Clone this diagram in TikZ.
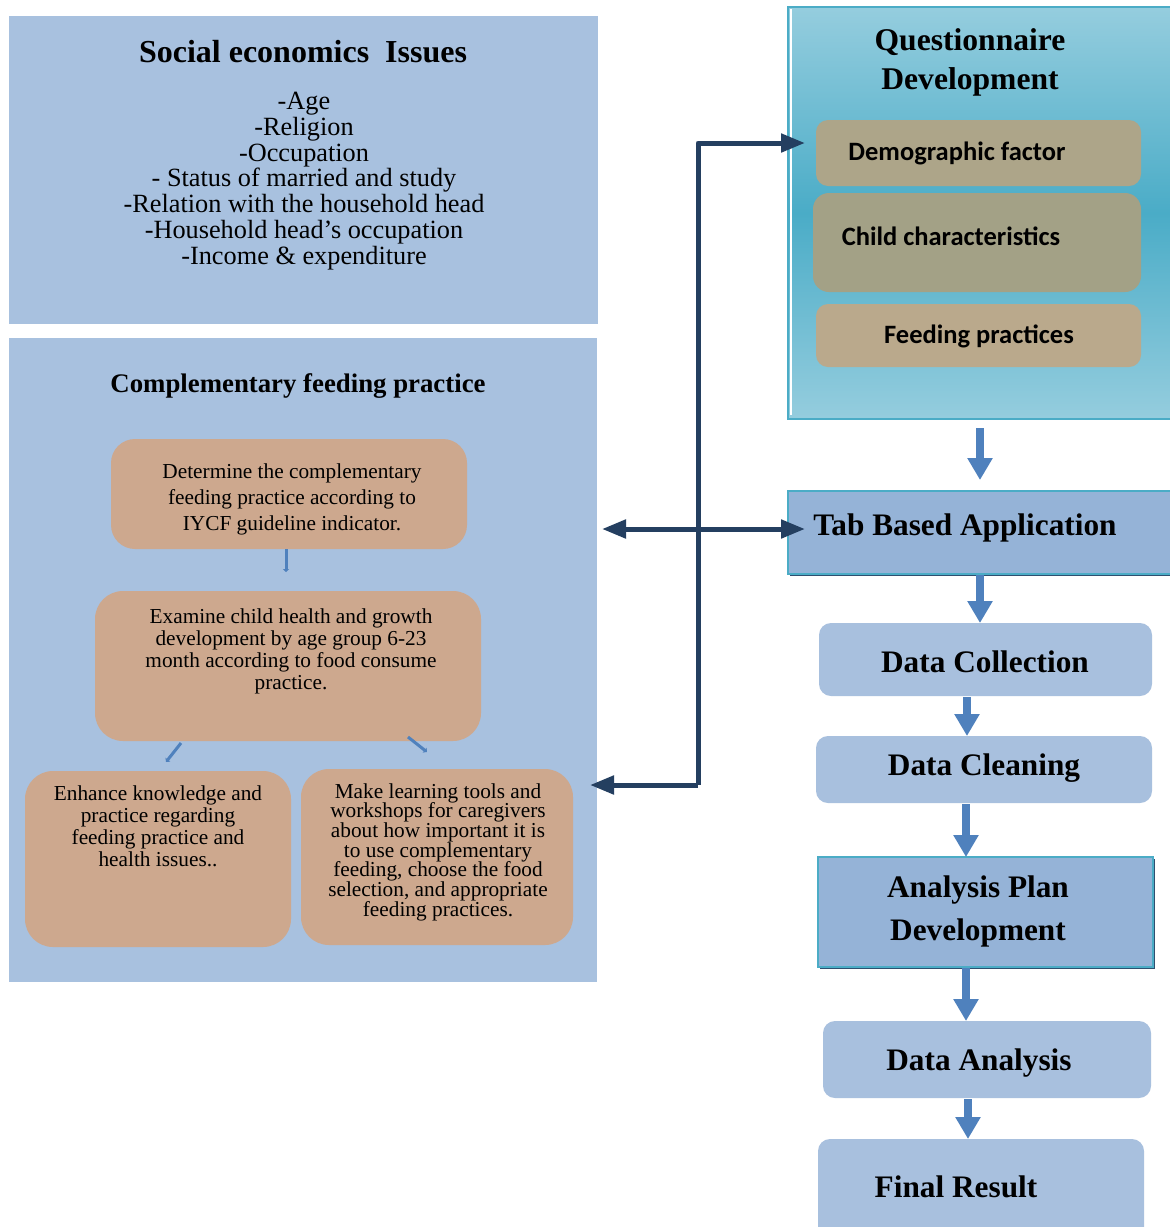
\documentclass[tikz,border=0pt]{standalone}
\usepackage{fontspec}
\setmainfont{Liberation Serif}
\newfontfamily\calfont{Carlito}
\usetikzlibrary{arrows.meta,calc}
\definecolor{panelblue}{HTML}{A8C1DF}
\definecolor{tanfill}{HTML}{CDA88E}
\definecolor{qlight}{HTML}{95CDDE}
\definecolor{qdark}{HTML}{4AACC7}
\definecolor{qborder}{HTML}{4BACC6}
\definecolor{demofill}{HTML}{ADA589}
\definecolor{childfill}{HTML}{A3A186}
\definecolor{feedfill}{HTML}{BAA98C}
\definecolor{tabfill}{HTML}{95B3D7}
\definecolor{dboxfill}{HTML}{A8C0DE}
\definecolor{arrowblue}{HTML}{4F81BD}
\definecolor{darknavy}{HTML}{243F60}
\definecolor{shadowc}{HTML}{2F4F6F}
\begin{document}
\begin{tikzpicture}[x=1pt,y=-1pt,
  every node/.style={inner sep=0pt, outer sep=0pt},
  panel/.style={fill=panelblue, anchor=north west},
  tanbox/.style={fill=tanfill, rounded corners=24pt, anchor=north west},
  qinner/.style={rounded corners=12pt, anchor=north west},
  dbox/.style={fill=dboxfill, rounded corners=12pt, anchor=north west},
  squarebox/.style={fill=tabfill, draw=qborder, line width=2pt, anchor=north west},
  bodytext/.style={align=center, font=\fontsize{21.3}{22}\selectfont},
  headtext/.style={align=center, font=\bfseries\fontsize{31.3}{43}\selectfont},
  caltext/.style={font=\calfont\bfseries\fontsize{26.5}{28}\selectfont},
  barrow/.style={draw=arrowblue, line width=8pt, -{Triangle[width=24pt,length=22pt]}},
  tarrow/.style={draw=arrowblue, line width=3pt, -{Triangle[width=6pt,length=3pt]}},
  dkline/.style={draw=darknavy, line width=5pt},
  dktip/.style={-{Triangle[width=18pt,length=24pt]}},
]
\useasboundingbox (0,0) rectangle (1170,1227);
\fill[white] (0,0) rectangle (1170,1227);

% ---------- Social economics ----------
\node[panel, minimum width=589pt, minimum height=308pt] (social) at (9,16) {};
\node[font=\bfseries\fontsize{32}{34}\selectfont] (socialtitle) at (303,52) {Social economics\ \ Issues};
\node[align=center, font=\fontsize{26.3}{25.8}\selectfont] (sociallist) at (304,181)
  {-Age\\-Religion\\-Occupation\\- Status of married and study\\-Relation with the household head\\-Household head’s occupation\\-Income \& expenditure};

% ---------- Complementary feeding ----------
\node[panel, minimum width=588pt, minimum height=644pt] (comp) at (9,338) {};
\node[font=\bfseries\fontsize{26.8}{28}\selectfont] (comptitle) at (298,386) {Complementary feeding practice};

\node[tanbox, minimum width=356pt, minimum height=110pt] (det) at (111,439) {};
\node[align=center, font=\fontsize{21.3}{26}\selectfont] (dettext) at (292,499)
  {Determine the complementary\\feeding practice according to\\IYCF guideline indicator.};

\node[tanbox, rounded corners=28pt, minimum width=386pt, minimum height=150pt] (exa) at (95,591) {};
\node[bodytext] (exatext) at (291,651)
  {Examine child health and growth\\development by age group 6-23\\month according to food consume\\practice.};

\node[tanbox, rounded corners=28pt, minimum width=266pt, minimum height=176pt] (enh) at (25,771) {};
\node[bodytext] (enhtext) at (158,826)
  {Enhance knowledge and\\practice regarding\\feeding practice and\\health issues..};

\node[tanbox, rounded corners=28pt, minimum width=272pt, minimum height=176pt] (mak) at (301,769) {};
\node[align=center, font=\fontsize{21.3}{19.7}\selectfont] (maktext) at (438,852)
  {Make learning tools and\\workshops for caregivers\\about how important it is\\to use complementary\\feeding, choose the food\\selection, and appropriate\\feeding practices.};

\draw[tarrow, shorten >=19pt] ([xshift=-3pt]det.south) -- ([xshift=-3pt]det.south |- exa.north);
\draw[tarrow] ([shift={(86,2)}]exa.south west) -- ([shift={(71,21)}]exa.south west);
\draw[tarrow] ([shift={(313,-4)}]exa.south west) -- ([shift={(332,11)}]exa.south west);

% ---------- Questionnaire ----------
\node[anchor=north west, minimum width=384pt, minimum height=412pt,
      top color=qlight, bottom color=qlight, middle color=qdark,
      draw=qborder, line width=2pt] (quest) at (788,7) {};
\draw[white, line width=1.5pt] ([shift={(3,2)}]quest.north west) -- ([shift={(3,-4)}]quest.south west);
\node[headtext, font=\bfseries\fontsize{31.6}{39}\selectfont] (questtitle) at (970,62.5) {Questionnaire\\Development};
\node[qinner, fill=demofill, minimum width=325pt, minimum height=66pt] (demo) at (816,120) {};
\node[caltext] (demotext) at (957,153) {Demographic factor};
\node[qinner, fill=childfill, rounded corners=16pt, minimum width=328pt, minimum height=99pt] (child) at (813,193) {};
\node[caltext] (childtext) at (951,236) {Child characteristics};
\node[qinner, fill=feedfill, minimum width=325pt, minimum height=63pt] (feed) at (816,304) {};
\node[caltext] (feedtext) at (979,336) {Feeding practices};

% ---------- right column ----------
\fill[shadowc] (790,493) rectangle (1172,576);
\node[squarebox, minimum width=384pt, minimum height=83pt] (tab) at (788,491) {};
\node[headtext] (tabtext) at (965,528) {Tab Based Application};

\node[dbox, minimum width=333pt, minimum height=73pt] (dc) at (819,623) {};
\node[headtext] (dctext) at (985,662) {Data Collection};

\node[dbox, minimum width=336pt, minimum height=67pt] (cl) at (816,736) {};
\node[headtext] (cltext) at (984,768) {Data Cleaning};

\fill[shadowc] (820,859) rectangle (1155,969);
\node[squarebox, minimum width=335pt, minimum height=110pt] (ap) at (818,857) {};
\node[headtext] (aptext) at (978,911.5) {Analysis Plan\\Development};

\node[dbox, minimum width=328pt, minimum height=77pt] (da) at (823,1021) {};
\node[headtext] (datext) at (979,1063) {Data Analysis};

\node[dbox, minimum width=326pt, minimum height=110pt] (fr) at (818,1139) {};
\node[headtext] (frtext) at (956,1187) {Final Result};

% blue flow arrows
\coordinate (cA) at (980,0);
\coordinate (cB) at (967,0);
\coordinate (cC) at (966,0);
\coordinate (cD) at (968,0);
\draw[barrow, shorten <=9pt, shorten >=11pt] (quest.south -| cA) -- (tab.north -| cA);
\draw[barrow, shorten <=1pt] (tab.south -| cA) -- (dc.north -| cA);
\draw[barrow, shorten <=1pt] (dc.south -| cB) -- (cl.north -| cB);
\draw[barrow, shorten <=1pt] (cl.south -| cC) -- (ap.north -| cC);
\draw[barrow, shorten <=1pt] (ap.south -| cC) -- (da.north -| cC);
\draw[barrow, shorten <=1pt] (da.south -| cD) -- (fr.north -| cD);

% dark connectors
\coordinate (jt) at (698,143);
\coordinate (jb) at (698,785);
\coordinate (jm) at (698,529);
\draw[dkline, dktip, line join=round, shorten >=11pt] (jb) -- (jt) -- (jt -| demo.west);
\draw[dkline, dktip, shorten >=-7pt] (jb) -- (jb -| comp.east);
\draw[dkline, {Triangle[width=18pt,length=24pt]}-{Triangle[width=18pt,length=24pt]}, shorten <=5pt, shorten >=-17pt] (jm -| comp.east) -- (jm -| tab.west);
\end{tikzpicture}
\end{document}
